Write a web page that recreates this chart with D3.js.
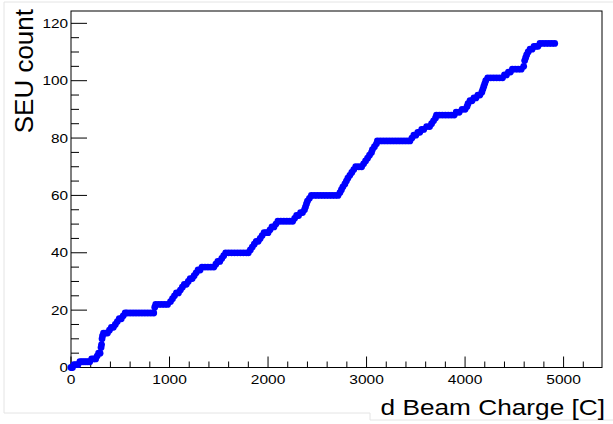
<!DOCTYPE html>
<html>
<head>
<meta charset="utf-8">
<script src="https://cdn.jsdelivr.net/npm/d3@7"></script>
<style>
  body { margin: 0; background: #fff; }
  text { font-family: "Liberation Sans", Arial, Helvetica, sans-serif; fill: #000; }
</style>
</head>
<body>
<svg id="chart"></svg>
<script>
//------------------------------------------------------------
// Data: cumulative SEU count vs beam charge [C]
const seuPoints = [
  [0,0],[15,0],[30,1],[50,1],[70,1],[90,2],[110,2],[130,2],[150,2],[170,2],
  [190,2],[210,3],[230,3],[250,3],[265,4],[280,5],[295,5],[305,7],[310,8],[315,10],
  [320,11],[330,12],[350,12],[370,12],[390,13],[410,14],[430,14],[450,15],[470,16],[490,17],
  [510,17],[530,18],[550,19],[570,19],[600,19],[630,19],[660,19],[690,19],[720,19],[750,19],
  [780,19],[810,19],[840,19],[850,21],[860,22],[890,22],[920,22],[950,22],[980,22],[1010,23],
  [1030,24],[1050,25],[1070,26],[1090,26],[1110,27],[1130,28],[1150,29],[1170,29],[1190,30],[1210,31],
  [1230,31],[1250,32],[1270,33],[1290,34],[1310,34],[1330,35],[1360,35],[1390,35],[1420,35],[1450,35],
  [1470,36],[1490,37],[1510,37],[1530,38],[1550,39],[1570,40],[1600,40],[1630,40],[1660,40],[1690,40],
  [1720,40],[1750,40],[1780,40],[1800,40],[1820,41],[1840,42],[1860,43],[1880,44],[1900,44],[1920,45],
  [1940,46],[1960,47],[1980,47],[2000,47],[2020,48],[2040,49],[2060,49],[2080,50],[2100,51],[2130,51],
  [2160,51],[2190,51],[2220,51],[2250,51],[2270,52],[2290,53],[2310,53],[2330,54],[2350,54],[2370,55],
  [2380,56],[2390,57],[2400,58],[2420,59],[2440,60],[2470,60],[2500,60],[2530,60],[2560,60],[2590,60],
  [2620,60],[2650,60],[2680,60],[2710,60],[2730,61],[2745,62],[2760,63],[2780,64],[2795,65],[2810,66],
  [2830,67],[2850,68],[2870,69],[2890,70],[2920,70],[2950,70],[2970,71],[2990,72],[3010,73],[3030,74],
  [3050,75],[3060,76],[3080,77],[3100,78],[3110,79],[3140,79],[3170,79],[3200,79],[3230,79],[3260,79],
  [3290,79],[3320,79],[3350,79],[3380,79],[3410,79],[3440,79],[3460,80],[3480,81],[3500,81],[3520,82],
  [3540,82],[3560,83],[3580,83],[3610,84],[3640,84],[3660,85],[3680,86],[3700,87],[3710,88],[3740,88],
  [3770,88],[3800,88],[3830,88],[3860,88],[3890,88],[3910,89],[3940,89],[3970,90],[4000,90],[4020,91],
  [4030,92],[4050,93],[4070,93],[4090,94],[4110,94],[4130,95],[4150,95],[4170,96],[4180,97],[4190,98],
  [4200,99],[4210,100],[4230,101],[4260,101],[4290,101],[4320,101],[4350,101],[4380,101],[4400,102],[4420,102],
  [4440,103],[4460,103],[4480,104],[4510,104],[4540,104],[4570,104],[4595,105],[4605,107],[4615,108],[4625,109],
  [4640,110],[4660,111],[4680,111],[4700,112],[4720,112],[4740,112],[4760,113],[4790,113],[4820,113],[4850,113],
  [4880,113],[4910,113]
];

const xDomain = [0, 5390];
const yDomain = [0, 124.3];
const xMajor = [0, 1000, 2000, 3000, 4000, 5000];
const xMinor = d3.range(0, 5390, 200);   // minor tick every 200 C
const yMajor = [0, 20, 40, 60, 80, 100, 120];
const yMinor = d3.range(0, 124.3, 5);    // minor tick every 5
const xTitle = "d Beam Charge [C]";
const yTitle = "SEU count";

//------------------------------------------------------------
// Chart setup
const W = 613, H = 424;
const frame = { left: 71, right: 602, top: 11, bottom: 367.5 };

const svg = d3.select("#chart")
  .attr("width", W)
  .attr("height", H);

// faint screenshot border
svg.append("path")
  .attr("d", "M4,2H613M4,2V413H370V420H613")
  .attr("fill", "none")
  .attr("stroke", "#e4e4e4")
  .attr("stroke-width", 1);

const x = d3.scaleLinear().domain(xDomain).range([frame.left, frame.right]);
const y = d3.scaleLinear().domain(yDomain).range([frame.bottom, frame.top]);

// Frame
svg.append("rect")
  .attr("x", frame.left)
  .attr("y", frame.top)
  .attr("width", frame.right - frame.left)
  .attr("height", frame.bottom - frame.top)
  .attr("fill", "none")
  .attr("stroke", "#000")
  .attr("stroke-width", 1);

// Ticks (ROOT style: inside the frame)
const ticks = svg.append("g").attr("stroke", "#000").attr("stroke-width", 1);

ticks.selectAll(".xmin").data(xMinor).join("line")
  .attr("x1", d => x(d)).attr("x2", d => x(d))
  .attr("y1", frame.bottom).attr("y2", d => frame.bottom - (d % 1000 === 0 ? 11 : 6));

ticks.selectAll(".ymin").data(yMinor).join("line")
  .attr("y1", d => y(d)).attr("y2", d => y(d))
  .attr("x1", frame.left).attr("x2", d => frame.left + (d % 20 === 0 ? 16 : 8));

// Tick labels
svg.append("g").selectAll("text").data(xMajor).join("text")
  .attr("transform", d => `translate(${x(d)},384) scale(1.15,1)`)
  .attr("text-anchor", "middle")
  .style("font-size", "13.5px")
  .text(d => d);

svg.append("g").selectAll("text").data(yMajor).join("text")
  .attr("transform", d => `translate(68,${y(d) + 4.5}) scale(1.18,1)`)
  .attr("text-anchor", "end")
  .style("font-size", "13px")
  .text(d => d);

// Axis titles
svg.append("text")
  .attr("transform", "translate(605,415) scale(1.22,1)")
  .attr("text-anchor", "end")
  .style("font-size", "21.5px")
  .text(xTitle);

svg.append("text")
  .attr("transform", "translate(33,9) rotate(-90)")
  .attr("text-anchor", "end")
  .style("font-size", "26px")
  .text(yTitle);

//------------------------------------------------------------
// Markers
svg.append("g").selectAll("circle").data(seuPoints).join("circle")
  .attr("cx", d => x(d[0]))
  .attr("cy", d => y(d[1]))
  .attr("r", 3.4)
  .attr("fill", "#0000ff");
</script>
</body>
</html>
